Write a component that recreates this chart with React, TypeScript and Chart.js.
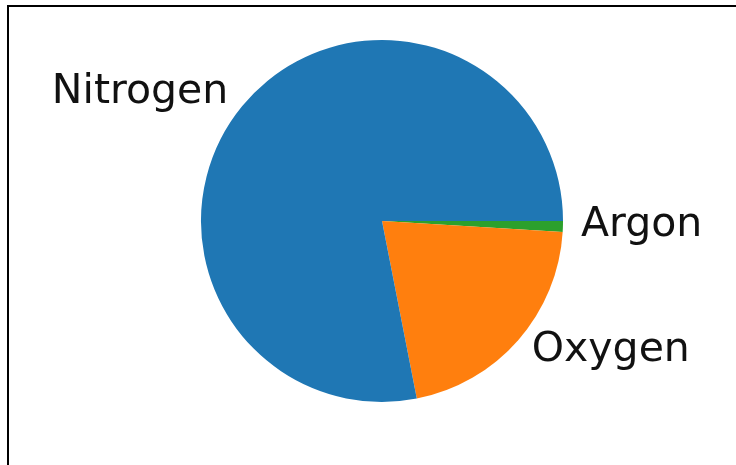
import React, { useEffect, useRef } from "react";
import { Chart, registerables } from "chart.js";

Chart.register(...registerables);

const categories = ["Nitrogen", "Oxygen", "Argon"];
const values = [78.08, 20.95, 0.97];
const colors = ["#1f77b4", "#ff7f0e", "#2ca02c"];

const outsideLabels = {
  id: "outsideLabels",
  afterDatasetsDraw(chart: any) {
    const ctx = chart.ctx;
    const meta = chart.getDatasetMeta(0);
    const labels = chart.data.labels as string[];
    ctx.save();
    ctx.font = '41px "DejaVu Sans"';
    ctx.fillStyle = "#111";
    ctx.textBaseline = "middle";
    meta.data.forEach((arc: any, i: number) => {
      const mid = (arc.startAngle + arc.endAngle) / 2;
      const r = arc.outerRadius * 1.1;
      const x = arc.x + Math.cos(mid) * r;
      const y = arc.y + Math.sin(mid) * r;
      ctx.textAlign = Math.cos(mid) >= 0 ? "left" : "right";
      ctx.fillText(labels[i], x, y - 2);
    });
    ctx.restore();
  },
};

export default function App() {
  const ref = useRef<HTMLCanvasElement>(null);
  useEffect(() => {
    if (!ref.current) return;
    const order = [2, 1, 0];
    const chart = new Chart(ref.current, {
      type: "pie",
      data: {
        labels: order.map((i) => categories[i]),
        datasets: [
          {
            data: order.map((i) => values[i]),
            backgroundColor: order.map((i) => colors[i]),
            borderWidth: 0,
            hoverOffset: 0,
          },
        ],
      },
      options: {
        responsive: false,
        animation: false,
        rotation: 90,
        layout: { padding: { left: 201, right: 173, top: 40, bottom: 63 } },
        plugins: { legend: { display: false }, tooltip: { enabled: false } },
        events: [],
      },
      plugins: [outsideLabels],
    });
    return () => chart.destroy();
  }, []);
  return (
    <div>
      <div
        style={{
          position: "fixed",
          left: 7,
          top: 5,
          width: 760,
          height: 500,
          border: "2px solid #000",
          background: "#fff",
          boxSizing: "border-box",
        }}
      />
      <canvas
        ref={ref}
        width={736}
        height={465}
        style={{ position: "fixed", left: 0, top: 0, width: 736, height: 465 }}
      />
    </div>
  );
}
